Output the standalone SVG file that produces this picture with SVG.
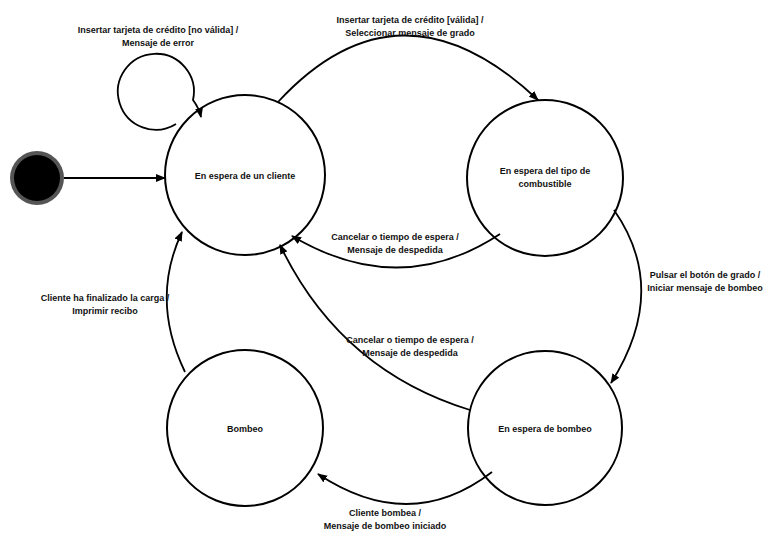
<svg xmlns="http://www.w3.org/2000/svg" width="776" height="544" viewBox="0 0 776 544">
<defs>
<marker id="ah" markerWidth="10" markerHeight="8" refX="9" refY="4" orient="auto" markerUnits="userSpaceOnUse">
<path d="M0,0 L10,4 L0,8 Z" fill="#000"/>
</marker>
<style>
.st{fill:#fff;stroke:#000;stroke-width:2}
.c{fill:none;stroke:#000;stroke-width:1.8;marker-end:url(#ah)}
text{font-family:"Liberation Sans",Arial,sans-serif;font-size:9px;font-weight:bold;fill:#111;text-anchor:middle}
</style>
</defs>
<rect width="776" height="544" fill="#fff"/>
<g id="initial">
<circle cx="37" cy="178" r="27" fill="#555"/>
<circle cx="37" cy="178" r="23" fill="#000"/>
</g>
<g id="s_cliente"><circle class="st" cx="245" cy="175" r="80"/><text x="245" y="179">En espera de un cliente</text></g>
<g id="s_tipo"><circle class="st" cx="545" cy="178" r="78"/><text x="545" y="174">En espera del tipo de</text><text x="545" y="187">combustible</text></g>
<g id="s_bombeo_wait"><circle class="st" cx="545" cy="428" r="77"/><text x="545" y="432">En espera de bombeo</text></g>
<g id="s_bombeo"><circle class="st" cx="245" cy="428" r="78"/><text x="245" y="432">Bombeo</text></g>
<g id="connectors">
<line class="c" x1="64" y1="178" x2="165" y2="178"/>
<path class="c" d="M176,124 A38,38 0 1 1 193,100 Q199,108 201,117"/>
<path class="c" d="M278,102 Q400,-30 538,100"/>
<path class="c" d="M500,234 Q400,300 292,236"/>
<path class="c" d="M614,210 Q670,290 611,383"/>
<path class="c" d="M470,410 Q340,370 280,245"/>
<path class="c" d="M492,472 Q410,535 318,474"/>
<path class="c" d="M185,372 Q150,300 182,232"/>
</g>
<g id="labels">
<text x="158" y="33">Insertar tarjeta de crédito [no válida] /</text>
<text x="158" y="46">Mensaje de error</text>
<text x="410" y="23">Insertar tarjeta de crédito [válida] /</text>
<text x="410" y="36">Seleccionar mensaje de grado</text>
<text x="395" y="240">Cancelar o tiempo de espera /</text>
<text x="395" y="253">Mensaje de despedida</text>
<text x="705" y="278">Pulsar el botón de grado /</text>
<text x="705" y="291">Iniciar mensaje de bombeo</text>
<text x="410" y="343">Cancelar o tiempo de espera /</text>
<text x="410" y="356">Mensaje de despedida</text>
<text x="105" y="301">Cliente ha finalizado la carga /</text>
<text x="105" y="314">Imprimir recibo</text>
<text x="385" y="516">Cliente bombea /</text>
<text x="385" y="529">Mensaje de bombeo iniciado</text>
</g>
</svg>
